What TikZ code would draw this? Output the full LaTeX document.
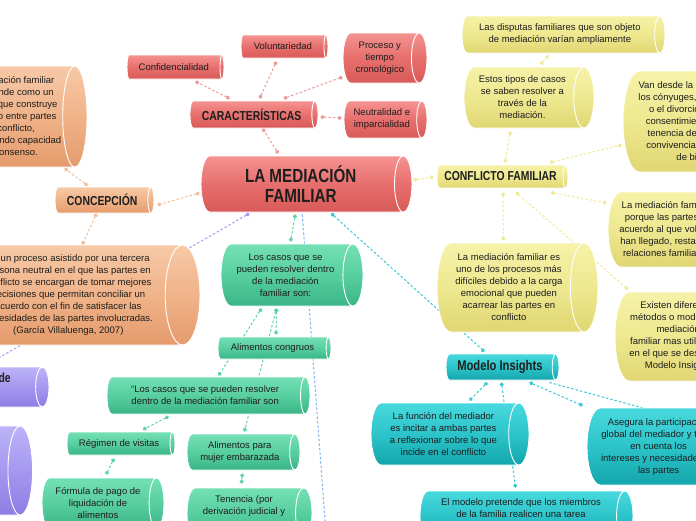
\documentclass[tikz,border=0pt]{standalone}
\usepackage{fontspec}
\setmainfont{Liberation Sans}
\newfontfamily\headfam[FakeStretch=0.8]{Liberation Sans}
\usetikzlibrary{shapes.geometric, arrows.meta}
\definecolor{ink}{HTML}{1E1E1E}
\definecolor{redtop}{HTML}{F59391}
\definecolor{redmid}{HTML}{E76F6D}
\definecolor{redbot}{HTML}{D85A58}
\definecolor{redline}{HTML}{EF9A98}
\definecolor{orgtop}{HTML}{F7C9A7}
\definecolor{orgmid}{HTML}{F0B389}
\definecolor{orgbot}{HTML}{E59B6C}
\definecolor{orgline}{HTML}{F4BE98}
\definecolor{yeltop}{HTML}{F6F2A8}
\definecolor{yelmid}{HTML}{EEE890}
\definecolor{yelbot}{HTML}{E0D672}
\definecolor{yelline}{HTML}{F0EA98}
\definecolor{grntop}{HTML}{74E0B5}
\definecolor{grnmid}{HTML}{58CFA0}
\definecolor{grnbot}{HTML}{3AB587}
\definecolor{grnline}{HTML}{5ED3A5}
\definecolor{teatop}{HTML}{48D9DE}
\definecolor{teamid}{HTML}{2CC4CA}
\definecolor{teabot}{HTML}{13A6AC}
\definecolor{tealine}{HTML}{38CBD1}
\definecolor{blueline}{HTML}{7EB6F2}
\definecolor{purtop}{HTML}{BCB3F7}
\definecolor{purmid}{HTML}{A598F0}
\definecolor{purbot}{HTML}{8D7DE4}
\definecolor{purline}{HTML}{A99DF0}
\pgfdeclarelayer{bg}
\pgfsetlayers{bg,main}

\begin{document}
\begin{tikzpicture}[
    x=1pt, y=-1pt,
    cyl/.style={cylinder, shape border rotate=0, aspect=0.45, draw=white, line width=0.9pt,
      align=center, text=ink, inner sep=1pt, anchor=shape center,
      font=\fontsize{9.5}{12}\selectfont},
    boxsize/.style 2 args={minimum height=#1, minimum width=#2},
    headtxt/.style={font=\headfam\bfseries\fontsize{13}{14}\selectfont},
    redcyl/.style={cyl, top color=redtop, bottom color=redbot, middle color=redmid},
    orgcyl/.style={cyl, top color=orgtop, bottom color=orgbot, middle color=orgmid},
    yelcyl/.style={cyl, top color=yeltop, bottom color=yelbot, middle color=yelmid},
    grncyl/.style={cyl, top color=grntop, bottom color=grnbot, middle color=grnmid},
    teacyl/.style={cyl, top color=teatop, bottom color=teabot, middle color=teamid},
    purcyl/.style={cyl, top color=purtop, bottom color=purbot, middle color=purmid},
    link/.style={line width=1pt, dash pattern=on 2.5pt off 2pt,
      {Circle[length=4pt]}-{Circle[length=4pt]}},
    redlink/.style={link, draw=redline},
    orglink/.style={link, draw=orgline},
    yellink/.style={link, draw=yelline},
    grnlink/.style={link, draw=grnline},
    tealink/.style={link, draw=tealine},
    bluelink/.style={link, draw=blueline, -},
    purlink/.style={link, draw=purline},
]
\useasboundingbox (0,0) rectangle (696,520);
\clip (0,0) rectangle (696,520);

% centro y caracteristicas
\node[redcyl, boxsize={211pt}{56pt},
  font=\headfam\bfseries\fontsize{19}{20}\selectfont] (mf) at (306.5,184) {LA MEDIACIÓN\\FAMILIAR};
\node[redcyl, headtxt, boxsize={128pt}{27pt}] (caract) at (254,114.5) {CARACTERÍSTICAS};
\node[redcyl, boxsize={97pt}{24pt}] (conf) at (175.5,67) {Confidencialidad};
\node[redcyl, boxsize={87pt}{23pt}] (volunt) at (284.5,46.5) {Voluntariedad};
\node[redcyl, boxsize={84pt}{50pt}] (proceso) at (385,58) {Proceso y\\tiempo\\cronológico};
\node[redcyl, boxsize={83pt}{37pt}] (neutral) at (385.5,119.5) {Neutralidad e\\imparcialidad};

% concepcion
\node[orgcyl, headtxt, boxsize={99pt}{26pt}] (concep) at (104.5,200) {CONCEPCIÓN};
\node[orgcyl, aspect=0.3, boxsize={130pt}{101pt}] (defA) at (17,116.5) {La mediación familiar\\se entiende como un\\proceso que construye\\el diálogo entre partes\\en conflicto,\\desarrollando capacidad\\de consenso.};
\node[orgcyl, aspect=0.42, boxsize={242pt}{100pt}] (defB) at (79,295) {Es un proceso asistido por una tercera\\persona neutral en el que las partes en\\conflicto se encargan de tomar mejores\\decisiones que permitan conciliar un\\acuerdo con el fin de satisfacer las\\necesidades de las partes involucradas.\\(García Villaluenga, 2007)};

% tipos
\node[purcyl, headtxt, boxsize={110pt}{40pt}] (purpA) at (-6,387) {Tipos de\\\strut};
\node[purcyl, aspect=0.3, boxsize={120pt}{89pt}, anchor=east] (purpB) at (33,470.5) {\rule{0pt}{80pt}};

% casos
\node[grncyl, boxsize={142pt}{62pt}] (g1) at (292,275) {Los casos que se\\pueden resolver dentro\\de la mediación\\familiar son:};
\node[grncyl, boxsize={113pt}{22pt}] (g2) at (274.5,348) {Alimentos congruos};
\node[grncyl, boxsize={203pt}{37pt}] (g3) at (208.5,395.5) {“Los casos que se pueden resolver\\dentro de la mediación familiar son};
\node[grncyl, boxsize={108pt}{23pt}] (g4) at (121,443.5) {Régimen de visitas};
\node[grncyl, boxsize={113pt}{36pt}] (g5) at (243.5,452) {Alimentos para\\mujer embarazada};
\node[grncyl, boxsize={122pt}{50pt}] (g6) at (103,503) {Fórmula de pago de\\liquidación de\\alimentos};
\node[grncyl, boxsize={125pt}{50pt}] (g7) at (249.5,513) {Tenencia (por\\derivación judicial y\\\strut};

% modelo insights
\node[teacyl, headtxt, boxsize={113pt}{26pt}, font=\headfam\bfseries\fontsize{14}{14}\selectfont] (mi) at (502.5,367) {Modelo Insights};
\node[teacyl, boxsize={158pt}{62pt}] (t1) at (450,434) {La función del mediador\\es incitar a ambas partes\\a reflexionar sobre lo que\\incide en el conflicto};
\node[teacyl, boxsize={160pt}{77pt}] (t2) at (667,446.5) {Asegura la participación\\global del mediador y tener\\en cuenta los\\intereses y necesidades de\\las partes};
\node[teacyl, boxsize={213pt}{50pt}] (t3) at (526.5,516) {El modelo pretende que los miembros\\de la familia realicen una tarea\\\strut};

% conflicto familiar
\node[yelcyl, headtxt, boxsize={131pt}{23pt}] (cf) at (502.5,176.5) {CONFLICTO FAMILIAR};
\node[yelcyl, boxsize={203pt}{37pt}] (y1) at (563.5,34.5) {Las disputas familiares que son objeto\\de mediación varían ampliamente};
\node[yelcyl, boxsize={130pt}{61pt}] (y2) at (529,97.5) {Estos tipos de casos\\se saben resolver a\\través de la\\mediación.};
\node[yelcyl, aspect=0.4, boxsize={168pt}{101pt}] (y3) at (707,121.5) {Van desde la separación de\\los cónyuges, la separación\\o el divorcio por mutuo\\consentimiento, hasta la\\tenencia de los hijos, la\\convivencia y la división\\de bienes};
\node[yelcyl, aspect=0.4, boxsize={161pt}{89pt}] (y4) at (517.5,287.5) {La mediación familiar es\\uno de los procesos más\\difíciles debido a la carga\\emocional que pueden\\acarrear las partes en\\conflicto};
\node[yelcyl, boxsize={172pt}{75pt}] (y5) at (694,229.5) {La mediación familiar funciona\\porque las partes cumplen el\\acuerdo al que voluntariamente\\han llegado, restableciendo las\\relaciones familiares dañadas};
\node[yelcyl, aspect=0.4, boxsize={144pt}{89pt}] (y6) at (687,336.5) {Existen diferentes\\métodos o modelos de\\mediación\\familiar mas utilizados,\\en el que se destaca el\\Modelo Insights};

\coordinate (belowedge) at (328,560);
\coordinate (rightedge) at (760,440);

\begin{pgfonlayer}{bg}
\fill[white] (0,0) rectangle (696,520);
\draw[redlink] ([xshift=-22.5pt,yshift=2pt]mf.north) -- ([xshift=11pt]caract.south);
\draw[redlink] ([xshift=-22pt,yshift=2pt]caract.north) -- ([xshift=21.5pt,yshift=-2pt]conf.south);
\draw[redlink] ([xshift=8pt,yshift=2pt]caract.north) -- ([xshift=-6.5pt,yshift=-3pt]volunt.south);
\draw[redlink] ([xshift=32pt,yshift=2pt]caract.north) -- ([yshift=-19pt]proceso.west);
\draw[redlink] ([xshift=2pt,yshift=-2.5pt]caract.east) -- ([xshift=-2pt,yshift=1.5pt]neutral.west);

\draw[orglink] ([xshift=-1pt,yshift=-9pt]mf.west) -- ([xshift=3pt,yshift=-5pt]concep.east);
\draw[orglink] ([xshift=-14.5pt,yshift=1pt]concep.north) -- ([xshift=55pt,yshift=-1pt]defA.south);
\draw[orglink] ([xshift=-5.5pt]concep.south) -- ([xshift=14pt]defB.north);

\draw[purlink] ([xshift=-51.5pt,yshift=-1pt]mf.south) -- ([xshift=-4pt,yshift=1pt]purpA.north);

\draw[grnlink] ([xshift=-5.5pt,yshift=-2pt]mf.south) -- ([xshift=5pt,yshift=2pt]g1.north);
\draw[grnlink] ([xshift=-9pt,yshift=-2pt]g1.south) -- ([xshift=3.5pt,yshift=2pt]g2.north);
\draw[grnlink] ([xshift=-24pt,yshift=-2pt]g1.south) -- ([xshift=13.5pt,yshift=1pt]g3.north);
\draw[grnlink] ([xshift=-9pt,yshift=-2pt]g1.south) -- ([xshift=4.5pt,yshift=2pt]g5.north);
\draw[grnlink] ([xshift=-36.5pt,yshift=-2pt]g3.south) -- ([xshift=24pt,yshift=2pt]g4.north);
\draw[grnlink] ([xshift=-5pt,yshift=-3pt]g4.south) -- ([xshift=8pt,yshift=3pt]g6.north);
\draw[grnlink] ([xshift=2.5pt,yshift=-3pt]g5.south) -- ([xshift=-2.5pt,yshift=4pt]g7.north);

\draw[bluelink] ([xshift=1.5pt,yshift=-2pt]mf.south) -- (belowedge);

\draw[tealink] ([xshift=30.5pt,yshift=-1pt]mf.south) -- ([xshift=-15.5pt,yshift=2pt]mi.north);
\draw[tealink] ([xshift=-12.5pt,yshift=-2pt]mi.south) -- ([xshift=26pt,yshift=2pt]t1.north);
\draw[tealink] ([xshift=1.5pt,yshift=-2pt]mi.south) -- ([xshift=-5.5pt,yshift=3pt]t3.north);
\draw[tealink] ([xshift=29.5pt,yshift=-2pt]mi.south) -- ([xshift=-76pt,yshift=2pt]t2.north);
\draw[tealink, -] ([xshift=49.5pt,yshift=-2pt]mi.south) -- (rightedge);

\draw[yellink] ([xshift=1pt,yshift=4pt]mf.east) -- ([xshift=-3pt,yshift=-0.5pt]cf.west);
\draw[yellink] ([xshift=4.5pt,yshift=2pt]cf.north) -- ([xshift=-12pt,yshift=-3pt]y2.south);
\draw[yellink] ([xshift=18pt,yshift=2pt]y2.north) -- ([xshift=-11.5pt,yshift=-2pt]y1.south);
\draw[yellink] ([xshift=49.5pt,yshift=2pt]cf.north) -- ([xshift=-1pt,yshift=-23.5pt]y3.west);
\draw[yellink] ([xshift=50.5pt,yshift=-4pt]cf.south) -- ([xshift=-1pt,yshift=26.5pt]y5.west);
\draw[yellink] ([xshift=2.5pt,yshift=-4pt]cf.south) -- ([xshift=-5.5pt,yshift=2pt]y4.north);
\draw[yellink] ([xshift=15.5pt,yshift=-4pt]cf.south) -- ([xshift=-50pt,yshift=2pt]y6.north);
\end{pgfonlayer}
\end{tikzpicture}
\end{document}
